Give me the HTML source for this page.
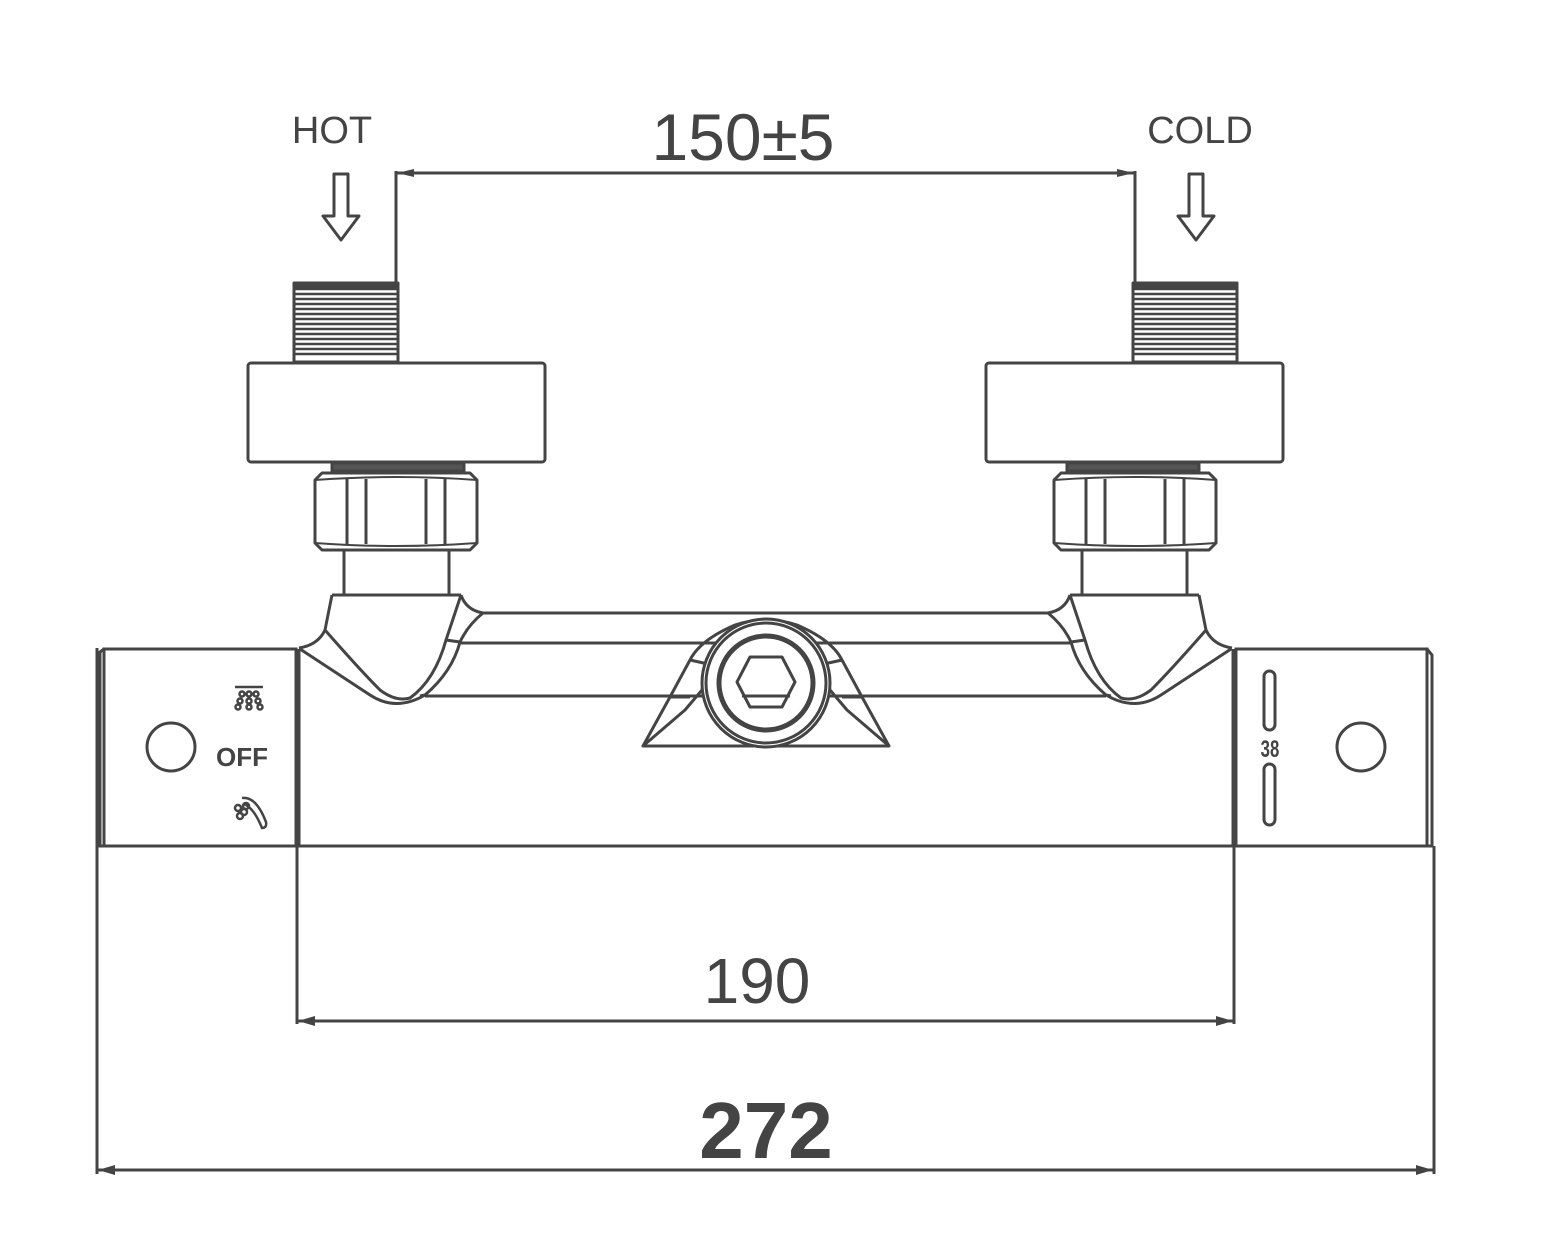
<!DOCTYPE html>
<html><head><meta charset="utf-8"><style>
html,body{margin:0;padding:0;background:#fff}
svg{display:block}
text{font-family:"Liberation Sans",Arial,sans-serif;fill:#444}
</style></head><body>
<svg width="1541" height="1237" viewBox="0 0 1541 1237" xmlns="http://www.w3.org/2000/svg">
<defs>
<g id="side" fill="none" stroke="#444" stroke-width="3" stroke-linejoin="round">
  <rect x="294" y="284" width="104" height="78" fill="#fff"/>
  <g stroke-width="2.6">
    <line x1="294" y1="289" x2="398" y2="289"/><line x1="294" y1="294" x2="398" y2="294"/>
    <line x1="294" y1="299" x2="398" y2="299"/><line x1="294" y1="304" x2="398" y2="304"/>
    <line x1="294" y1="309" x2="398" y2="309"/><line x1="294" y1="314" x2="398" y2="314"/>
    <line x1="294" y1="319" x2="398" y2="319"/><line x1="294" y1="324" x2="398" y2="324"/>
    <line x1="294" y1="329" x2="398" y2="329"/><line x1="294" y1="334" x2="398" y2="334"/>
    <line x1="294" y1="339" x2="398" y2="339"/><line x1="294" y1="344" x2="398" y2="344"/>
    <line x1="294" y1="349" x2="398" y2="349"/><line x1="294" y1="354" x2="398" y2="354"/>
  </g>
  <rect x="294" y="283" width="104" height="4" fill="#444"/>
  <rect x="248" y="363" width="297" height="99" rx="3"/>
  <rect x="332" y="463" width="132" height="8" fill="#555"/>
  <path d="M322 473 L470 473 L477 480 L477 543 L470 550 L322 550 L315 543 L315 480 Z" fill="#fff"/>
  <line x1="347" y1="479" x2="347" y2="544"/><line x1="366" y1="479" x2="366" y2="544"/>
  <line x1="426" y1="479" x2="426" y2="544"/><line x1="445" y1="479" x2="445" y2="544"/>
  <path d="M315 480 Q396 474 477 480 M315 543 Q396 549 477 543" stroke-width="2"/>
  <rect x="344" y="550" width="105" height="45"/>
  <path d="M332 595 L461 595"/>
  <path d="M332 595 L325 630 Q318 645 299 648"/>
  <path d="M325 630 Q360 670 380 690 Q396 702 410 698 Q435 680 446 640 L461 595"/>
  <path d="M300 649 L370 695 Q396 712 425 695 Q452 672 460 642 Q468 625 483 613"/>
  <path d="M461 595 Q466 610 483 613"/>
  <path d="M446 640 L460 642 M420 696 L425 695"/>
</g>
</defs>

<g stroke="#444" stroke-width="3" fill="none">
  <line x1="396" y1="173" x2="1135" y2="173"/>
  <line x1="396" y1="171" x2="396" y2="285"/>
  <line x1="1135" y1="171" x2="1135" y2="285"/>
</g>
<path d="M397 173 L414 169 L414 177 Z M1134 173 L1117 169 L1117 177 Z" fill="#444"/>
<text x="743" y="160" font-size="66" text-anchor="middle">150±5</text>
<text x="332" y="143" font-size="38" text-anchor="middle">HOT</text>
<text x="1200" y="143" font-size="38" text-anchor="middle">COLD</text>
<path d="M334 174 L348 174 L348 216 L359 216 L341 240 L323 216 L334 216 Z" fill="none" stroke="#444" stroke-width="3" stroke-linejoin="round"/>
<path d="M1189 174 L1203 174 L1203 216 L1214 216 L1196 240 L1178 216 L1189 216 Z" fill="none" stroke="#444" stroke-width="3" stroke-linejoin="round"/>

<g fill="none" stroke="#444" stroke-width="3">
  <line x1="296" y1="846" x2="1236" y2="846"/>
  <line x1="483" y1="613" x2="1048" y2="613"/>
  <line x1="460" y1="643" x2="1071" y2="643"/>
  <line x1="425" y1="696" x2="706" y2="696"/>
  <line x1="826" y1="696" x2="1106" y2="696"/>
  <path d="M104 649 L296 649 L296 846 L104 846 Z"/>
  <path d="M104 649 L100 652 L100 846 L104 846" />
  <line x1="299" y1="649" x2="299" y2="846"/>
  <circle cx="171" cy="747" r="24"/>
  <path d="M1236 649 L1427 649 L1427 846 L1236 846 Z"/>
  <path d="M1427 649 L1432 655 L1432 846 L1427 846"/>
  <line x1="1233" y1="649" x2="1233" y2="846"/>
  <circle cx="1361" cy="747" r="24"/>
  <rect x="1264" y="671" width="11" height="59" rx="5.5"/>
  <rect x="1264" y="764" width="11" height="61" rx="5.5"/>
</g>
<text x="1270" y="757" font-size="24" font-weight="bold" text-anchor="middle" transform="translate(1270 748) scale(0.7 1) translate(-1270 -748)">38</text>
<text x="242" y="766" font-size="26" font-weight="bold" text-anchor="middle">OFF</text>
<g fill="none" stroke="#444" stroke-width="2.5">
  <line x1="235" y1="687" x2="263" y2="687"/>
  <circle cx="242" cy="694" r="2.5"/><circle cx="249" cy="694" r="2.5"/><circle cx="256" cy="694" r="2.5"/>
  <circle cx="240" cy="701" r="2.5"/><circle cx="249" cy="701" r="2.5"/><circle cx="258" cy="701" r="2.5"/>
  <circle cx="238" cy="707" r="2.5"/><circle cx="249" cy="707" r="2.5"/><circle cx="260" cy="707" r="2.5"/>
  <path d="M242 798 Q256 796 266 822 Q267 828 262 828 Q254 808 244 804"/>
  <circle cx="238" cy="808" r="3"/><circle cx="244" cy="812" r="3"/><circle cx="240" cy="816" r="3"/><circle cx="246" cy="806" r="3"/>
</g>

<use href="#side"/>
<use href="#side" transform="translate(1531 0) scale(-1 1)"/>

<g fill="none" stroke="#444" stroke-width="3" stroke-linejoin="round">
  <path d="M643 746 L889 746 Z"/>
  <path d="M643 746 L670 697 L690 660 Q700 640 735 625 Q766 615 797 625 Q832 640 842 660 L862 697 L889 746"/>
  <path d="M643 746 L685 710 L702 690 L710 660"/>
  <path d="M889 746 L847 710 L830 690 L822 660"/>
  <path d="M690 660 L708 664 M842 660 L824 664 M670 697 L690 697 M862 697 L842 697"/>
  <circle cx="766" cy="683" r="64" fill="#fff"/>
  <circle cx="766" cy="683" r="60"/>
  <circle cx="766" cy="683" r="47" stroke-width="5"/>
  <path d="M750 657 L782 657 L795 682 L782 707 L750 707 L737 682 Z"/>
  <line x1="742" y1="696" x2="790" y2="696"/>
</g>

<g stroke="#444" stroke-width="3" fill="none">
  <line x1="297" y1="846" x2="297" y2="1024"/>
  <line x1="1234" y1="846" x2="1234" y2="1024"/>
  <line x1="297" y1="1021" x2="1234" y2="1021"/>
  <line x1="97" y1="648" x2="97" y2="1174"/>
  <line x1="1434" y1="846" x2="1434" y2="1174"/>
  <line x1="97" y1="1170" x2="1434" y2="1170"/>
</g>
<path d="M298 1021 L315 1016 L315 1026 Z M1233 1021 L1216 1016 L1216 1026 Z M98 1170 L115 1165 L115 1175 Z M1433 1170 L1416 1165 L1416 1175 Z" fill="#444"/>
<text x="757" y="1003" font-size="64" text-anchor="middle">190</text>
<text x="766" y="1158" font-size="80" font-weight="bold" text-anchor="middle">272</text>
</svg>
</body></html>
